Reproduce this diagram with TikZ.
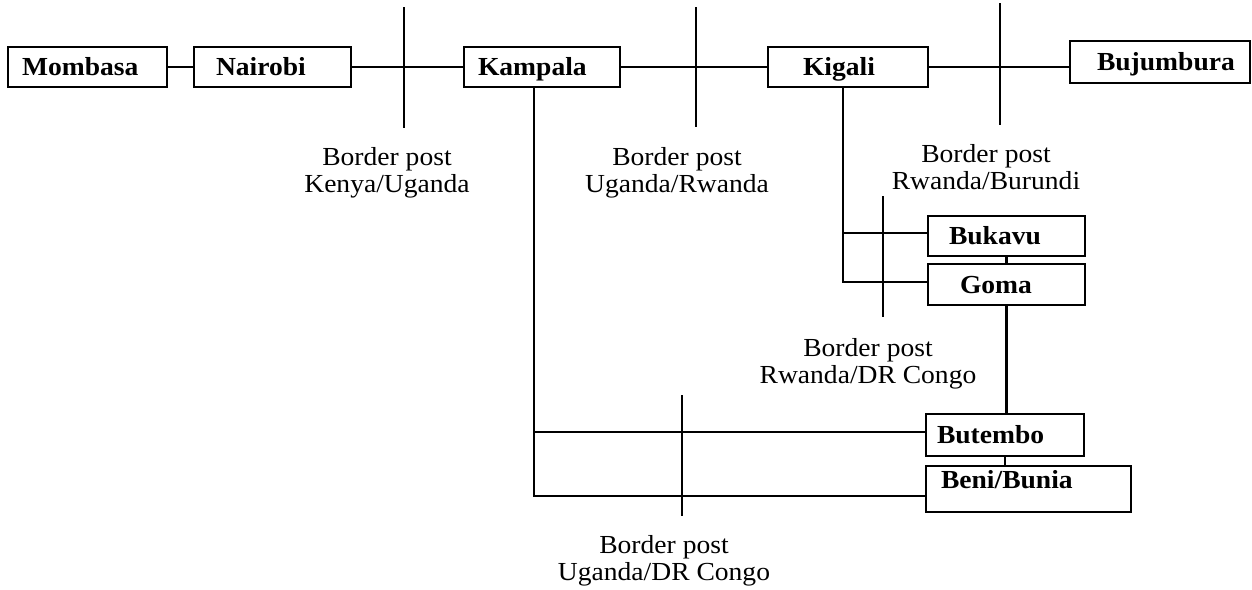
\documentclass[tikz,border=0pt]{standalone}
\usepackage{fontspec}
\setmainfont{Liberation Serif}[FakeStretch=1.06]
\begin{document}
\begin{tikzpicture}[x=1pt,y=-1pt,
  cbox/.style={draw, line width=2.8pt, rectangle, inner xsep=0pt, inner ysep=0pt, align=left,
    font=\bfseries\fontsize{26}{27}\selectfont, text height=17pt, text depth=0pt, minimum height=40pt},
  conn/.style={line width=2.1pt},
  bline/.style={line width=1.2pt},
  blabel/.style={align=center, font=\fontsize{26}{27}\selectfont, anchor=base, inner sep=0pt}]
\useasboundingbox (0,0) rectangle (1252,589);
% boxes
\node[cbox, text width=159pt] (mombasa) at (87.5,67) {\hspace*{14pt}Mombasa};
\node[cbox, text width=157pt] (nairobi) at (272.5,67) {\hspace*{22pt}Nairobi};
\node[cbox, text width=156pt] (kampala) at (542,67) {\hspace*{14pt}Kampala};
\node[cbox, text width=160pt] (kigali) at (848,67) {\hspace*{35pt}Kigali};
\node[cbox, text width=180pt, minimum height=42pt] (bujumbura) at (1160,62) {\hspace*{27pt}Bujumbura};
\node[cbox, text width=157pt] (bukavu) at (1006.5,236) {\hspace*{21pt}Bukavu};
\node[cbox, text width=157pt, minimum height=41pt] (goma) at (1006.5,284.5) {\hspace*{32pt}Goma};
\node[cbox, text width=158pt, minimum height=42pt] (butembo) at (1005,435) {\hspace*{11pt}Butembo};
\node[cbox, text width=205pt, minimum height=46pt, text depth=19pt] (beni) at (1028.5,489) {\hspace*{15pt}Beni/Bunia};
% connectors
\draw[conn] (mombasa) -- (nairobi);
\draw[conn] (nairobi) -- (kampala);
\draw[conn] (kampala) -- (kigali);
\draw[conn] (kigali.east) -- (kigali.east -| bujumbura.west);
\coordinate (kv) at (534,67);
\draw[conn] (kv |- kampala.south) |- ([yshift=-7pt]beni.west);
\draw[conn] ([yshift=3pt]butembo.west) -- ([yshift=3pt]butembo.west -| kv);
\coordinate (gv) at (843,67);
\draw[conn] (gv |- kigali.south) |- ([yshift=2.5pt]goma.west);
\draw[conn] ([yshift=3pt]bukavu.west) -- ([yshift=3pt]bukavu.west -| gv);
\draw[conn] (bukavu) -- (goma);
\draw[conn] (goma.south) -- (goma.south |- butembo.north);
\draw[conn] (butembo.south) -- (butembo.south |- beni.north);
% border posts
\coordinate (b1t) at (404,7);   \coordinate (b1b) at (404,128);
\coordinate (b2t) at (696,7);   \coordinate (b2b) at (696,127);
\coordinate (b3t) at (1000,3);  \coordinate (b3b) at (1000,125);
\coordinate (b4t) at (883,196); \coordinate (b4b) at (883,317);
\coordinate (b5t) at (682,395); \coordinate (b5b) at (682,516);
\draw[bline] (b1t) -- (b1b);
\draw[bline] (b2t) -- (b2b);
\draw[bline] (b3t) -- (b3b);
\draw[bline] (b4t) -- (b4b);
\draw[bline] (b5t) -- (b5b);
\node[blabel] (l1) at (387,192) {Border post\\Kenya/Uganda};
\node[blabel] (l2) at (677,192) {Border post\\Uganda/Rwanda};
\node[blabel] (l3) at (986,189) {Border post\\Rwanda/Burundi};
\node[blabel] (l4) at (868,383) {Border post\\Rwanda/DR Congo};
\node[blabel] (l5) at (664,580) {Border post\\Uganda/DR Congo};
\end{tikzpicture}
\end{document}
